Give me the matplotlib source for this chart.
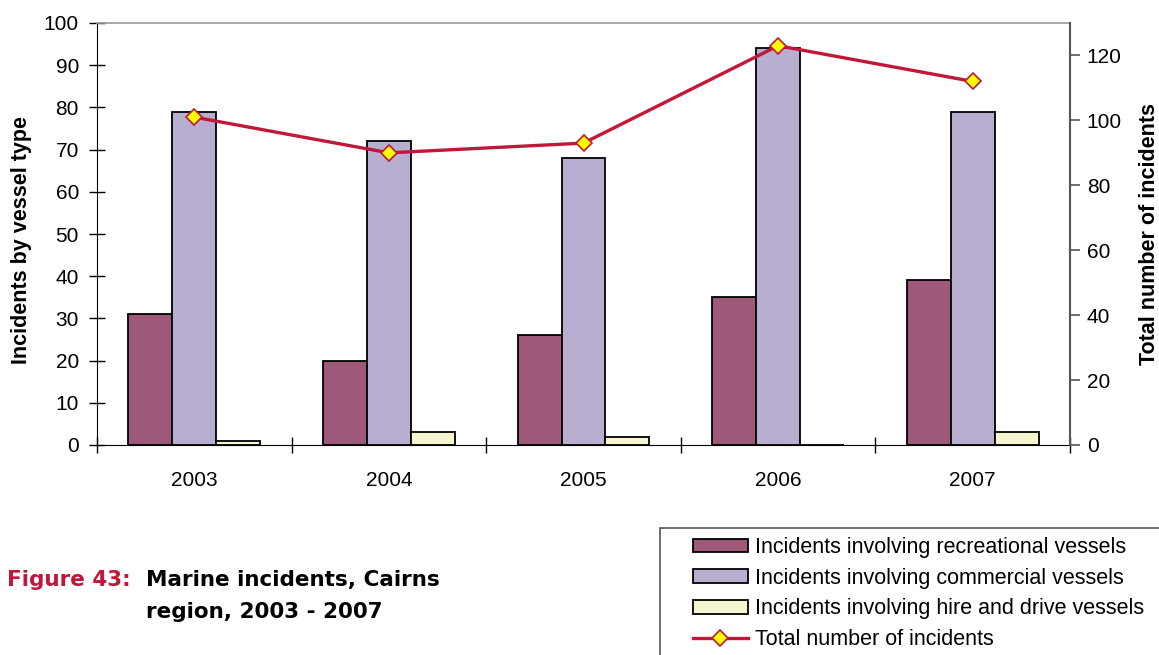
import matplotlib
matplotlib.use("Agg")
import matplotlib.pyplot as plt
from matplotlib.patches import Rectangle, Patch
from matplotlib.lines import Line2D
import numpy as np

plt.rcParams['font.family'] = ['Liberation Sans', 'DejaVu Sans']

years = ['2003', '2004', '2005', '2006', '2007']
recreational = [31, 20, 26, 35, 39]
commercial = [79, 72, 68, 94, 79]
hire_drive = [1, 3, 2, 0, 3]
total = [101, 90, 93, 123, 112]

left_ticks = list(range(0, 101, 10))
right_ticks = list(range(0, 121, 20))

series_labels = ['Incidents involving recreational vessels',
                 'Incidents involving commercial vessels',
                 'Incidents involving hire and drive vessels',
                 'Total number of incidents']

c_rec = '#9E5878'
c_com = '#B8AED0'
c_hire = '#F5F5D0'
c_line = '#C0173A'

W, H = 1159, 655
fig = plt.figure(figsize=(W / 100, H / 100), dpi=100)
ax = fig.add_axes([97 / W, 1 - 445 / H, (1070 - 97) / W, (445 - 23) / H])

x = np.arange(len(years))
bw = 0.226
ax.bar(x - bw, recreational, bw, color=c_rec, edgecolor='black', linewidth=1.3, zorder=2)
ax.bar(x, commercial, bw, color=c_com, edgecolor='black', linewidth=1.3, zorder=2)
ax.bar(x + bw, hire_drive, bw, color=c_hire, edgecolor='black', linewidth=1.3, zorder=2)

ax.set_xlim(-0.5, len(years) - 0.5)
ax.set_ylim(0, 100)
ax.set_yticks(left_ticks)
ax.set_xticks(x)
ax.set_xticklabels(years, fontsize=15)
ax.set_xticks(np.arange(-0.5, len(years), 1.0), minor=True)
ax.tick_params(axis='x', which='major', length=0, pad=19)
ax.tick_params(axis='x', which='minor', direction='inout', length=12, width=1, color='black')
ax.tick_params(axis='y', direction='inout', length=12, width=1, labelsize=15, pad=7)

ax.spines['top'].set_color('#9a9a9a')
ax.spines['top'].set_linewidth(1.2)
ax.spines['right'].set_visible(False)
ax.spines['left'].set_color('black')
ax.spines['bottom'].set_color('black')

ax.set_ylabel('Incidents by vessel type', fontsize=15.5, fontweight='bold', va='center')
ax.yaxis.set_label_coords(-0.078, 0.485)

ax2 = ax.twinx()
ax2.set_ylim(0, 130)
ax2.set_yticks(right_ticks)
ax2.plot(x, total, color=c_line, linewidth=2.4, marker='D', markersize=8,
         markerfacecolor='#FFFF00', markeredgecolor=c_line, markeredgewidth=1.2, zorder=5)
ax2.tick_params(axis='y', direction='out', length=7, width=1.2, color='#555555',
                labelsize=15, pad=5)
for s in ['left', 'top', 'bottom']:
    ax2.spines[s].set_visible(False)
ax2.spines['right'].set_color('#555555')
ax2.spines['right'].set_linewidth(1.5)
ax2.set_ylabel('Total number of incidents', fontsize=15.5, fontweight='bold', va='center')
ax2.yaxis.set_label_coords(1.082, 0.5)

# caption
cap_font = ['DejaVu Sans']
fig.text(7 / W, 1 - 586 / H, 'Figure 43:', color=c_line, fontsize=15.5,
         fontweight='bold', ha='left', va='baseline', family=cap_font)
fig.text(146 / W, 1 - 586 / H, 'Marine incidents, Cairns', color='black',
         fontsize=15.5, fontweight='bold', ha='left', va='baseline', family=cap_font)
fig.text(146 / W, 1 - 618 / H, 'region, 2003 - 2007', color='black',
         fontsize=15.5, fontweight='bold', ha='left', va='baseline', family=cap_font)

# legend frame
fig.patches.append(Rectangle((660 / W, -0.05), 600 / W, (1 - 528 / H) + 0.05,
                             transform=fig.transFigure, facecolor='white',
                             edgecolor='#555555', linewidth=1.2, zorder=0))
handles = [Patch(facecolor=c_rec, edgecolor='black', linewidth=1.3),
           Patch(facecolor=c_com, edgecolor='black', linewidth=1.3),
           Patch(facecolor=c_hire, edgecolor='black', linewidth=1.3),
           Line2D([], [], color=c_line, linewidth=2.4, marker='D', markersize=8,
                  markerfacecolor='#FFFF00', markeredgecolor=c_line, markeredgewidth=1.2)]
leg = fig.legend(handles, series_labels, loc='upper left',
                 bbox_to_anchor=(693 / W, 1 - 537 / H), frameon=False,
                 fontsize=15.5, handlelength=2.55, handleheight=0.6, handletextpad=0.33,
                 labelspacing=0.45, borderpad=0, borderaxespad=0, numpoints=1)

fig.savefig('out.png', dpi=100)
